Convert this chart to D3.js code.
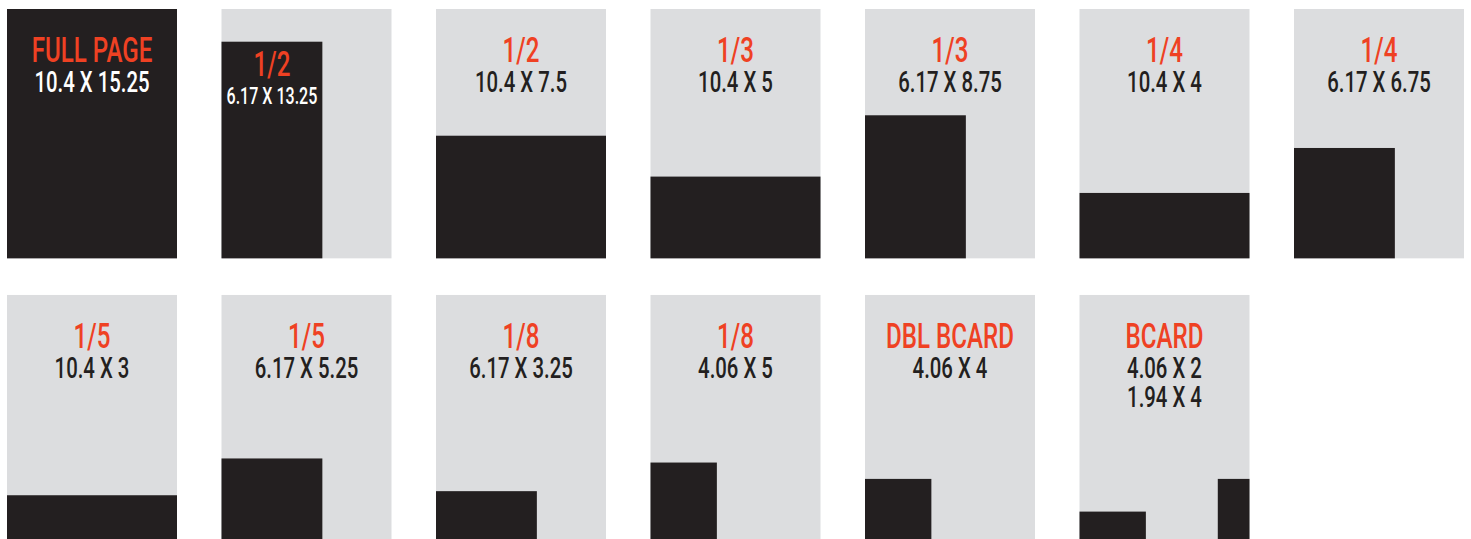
<!DOCTYPE html>
<html>
<head>
<meta charset="utf-8">
<script src="https://cdn.jsdelivr.net/npm/d3@7"></script>
<style>
  body { margin: 0; background: #fff; }
  svg { display: block; }
</style>
</head>
<body>
<script>
// ad sizes (inches) on a 10.4 x 15.25 page
const pageSize = [10.4, 15.25];
const adNames = ["FULL PAGE", "1/2", "1/2", "1/3", "1/3", "1/4", "1/4",
                 "1/5", "1/5", "1/8", "1/8", "DBL BCARD", "BCARD"];
const adWidths = [[10.4], [6.17], [10.4], [10.4], [6.17], [10.4], [6.17],
                  [10.4], [6.17], [6.17], [4.06], [4.06], [4.06, 1.94]];
const adHeights = [[15.25], [13.25], [7.5], [5], [8.75], [4], [6.75],
                   [3], [5.25], [3.25], [5], [4], [2, 4]];

const W = 1471, H = 539;
const gris = "#dcdddf", noir = "#231f20", rouge = "#ef4123";
const police = "Roboto, 'Liberation Sans', sans-serif";
const serreTitre = 0.67, serreTaille = 0.69; // compression horizontale du texte

const svg = d3.select("body").append("svg")
  .attr("width", W).attr("height", H);

// grille 7 colonnes x 2 lignes
const col = d3.scaleBand().domain(d3.range(7)).range([7, 1464])
  .paddingInner(44.5 / 214.5).paddingOuter(0);
const row = d3.scaleBand().domain([0, 1]).range([9, 544.3])
  .paddingInner(0.128).paddingOuter(0);

// pouces -> pixels dans une page
const x = d3.scaleLinear().domain([0, pageSize[0]]).range([0, col.bandwidth()]);
const y = d3.scaleLinear().domain([0, pageSize[1]]).range([row.bandwidth(), 0]);

const ads = adNames.map((n, i) => ({
  name: n,
  blocks: adWidths[i].map((w, j) => ({ w: w, h: adHeights[i][j], right: j > 0 })),
  col: i % 7,
  row: Math.floor(i / 7)
}));

const pages = svg.selectAll("g.page")
  .data(ads)
  .enter()
  .append("g")
  .attr("class", "page")
  .attr("transform", d => `translate(${col(d.col)},${row(d.row)})`);

pages.append("rect")
  .attr("width", col.bandwidth())
  .attr("height", row.bandwidth())
  .attr("fill", gris);

pages.selectAll("rect.ad")
  .data(d => d.blocks)
  .enter()
  .append("rect")
  .attr("class", "ad")
  .attr("x", b => b.right ? x(pageSize[0] - b.w) : 0)
  .attr("y", b => y(b.h))
  .attr("width", b => x(b.w))
  .attr("height", b => y(0) - y(b.h))
  .attr("fill", noir);

// textes
pages.each(function (d) {
  const g = d3.select(this);
  const b = d.blocks[0];
  const top = y(b.h);
  // bloc qui chevauche la zone du texte : on place le texte dedans
  const dedans = top > 0 && top < 90;
  const cx = dedans ? x(b.w) / 2 : col.bandwidth() / 2;
  const base = dedans ? top + 34 : 53;
  const surNoir = top < 90;
  const maxW = dedans ? x(b.w) - 10 : col.bandwidth() - 10;

  g.append("text")
    .attr("transform", `translate(${cx},${base}) scale(${serreTitre},1)`)
    .attr("text-anchor", "middle")
    .attr("font-family", police)
    .attr("font-weight", 500)
    .attr("font-size", 36)
    .attr("fill", rouge)
    .text(d.name);

  d.blocks.forEach((bl, j) => {
    const t = g.append("text")
      .attr("text-anchor", "middle")
      .attr("font-family", police)
      .attr("font-weight", 500)
      .attr("font-size", 29.5)
      .attr("fill", surNoir ? "#fff" : noir)
      .text(`${bl.w} X ${bl.h}`);
    let fs = 29.5;
    const len = t.node().getComputedTextLength() * serreTaille;
    if (len > maxW) fs = fs * maxW / len;
    t.attr("font-size", fs)
      .attr("transform", `translate(${cx},${base + (dedans ? 28 : 30) + j * 29}) scale(${serreTaille},1)`);
  });
});
</script>
</body>
</html>
